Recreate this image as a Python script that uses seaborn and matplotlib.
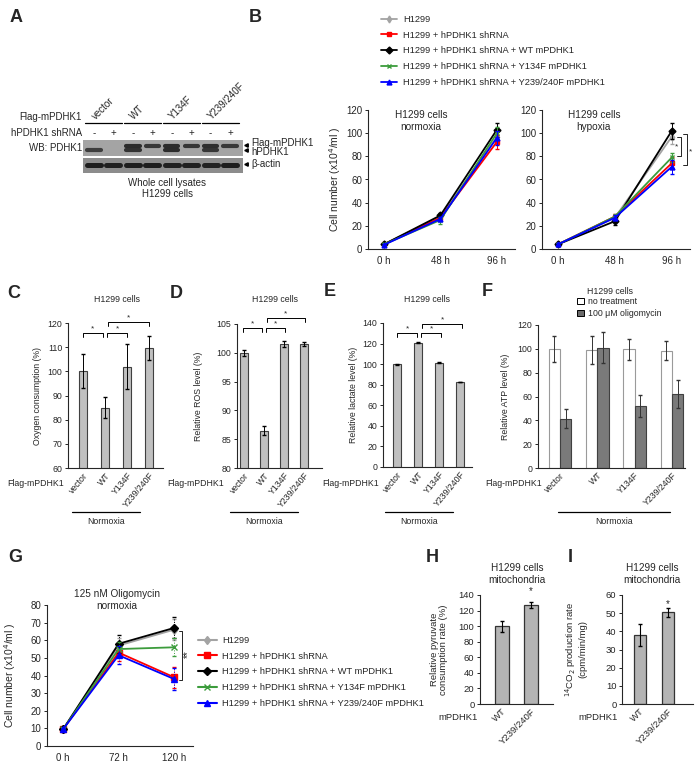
import numpy as np
import pandas as pd
import seaborn as sns
import matplotlib.pyplot as plt
from matplotlib.lines import Line2D
from matplotlib.patches import Rectangle, Patch

# ---------------- data ----------------
# A: western blot (band intensity per lane, 0 = no band)
blot_groups = ['vector', 'WT', 'Y134F', 'Y239/240F']
blot_shrna = ['-', '+', '-', '+', '-', '+', '-', '+']
flag_band = [0.0, 0.0, 1.0, 0.85, 1.0, 0.85, 0.95, 0.8]
hpdhk1_band = [0.75, 0.0, 0.9, 0.0, 1.0, 0.0, 0.85, 0.0]
actin_band = [0.95, 0.9, 0.95, 0.95, 0.9, 0.9, 0.85, 0.95]

# B / G: growth curves
series_names = ['H1299', 'H1299 + hPDHK1 shRNA', 'H1299 + hPDHK1 shRNA + WT mPDHK1',
                'H1299 + hPDHK1 shRNA + Y134F mPDHK1', 'H1299 + hPDHK1 shRNA + Y239/240F mPDHK1']
series_colors = ['#a3a3a3', '#ff0000', '#000000', '#3c9c3c', '#0000ff']
series_markers = ['d', 's', 'D', 'x', '^']

times_b = ['0 h', '48 h', '96 h']
norm_vals = [[4, 28, 97], [4, 27, 92.5], [4, 29, 103], [4, 25, 100], [3.5, 26, 96]]
norm_errs = [[1, 2, 5], [1, 2, 6], [1, 2, 6], [1, 3, 5], [1, 2, 6]]
hyp_vals = [[4, 27, 97], [4, 28, 74], [4, 24, 102], [4, 28, 79], [4, 27, 71]]
hyp_errs = [[1, 2, 6], [1, 2, 5], [1, 3, 7], [1, 2, 4], [1, 2, 6]]

times_g = ['0 h', '72 h', '120 h']
oligo_vals = [[9.5, 57, 66], [9.5, 53, 39], [9.5, 58, 67], [9.5, 55, 56], [9.5, 51.5, 38]]
oligo_errs = [[0.5, 4, 6], [0.5, 5, 6], [0.5, 5, 6], [0.5, 4, 5], [0.5, 5, 6]]

# C-F: bars
mutants = ['vector', 'WT', 'Y134F', 'Y239/240F']
oxygen = [100, 85, 102, 109.5]
oxygen_err = [7, 4.5, 9.5, 5]
ros = [100, 86.5, 101.5, 101.5]
ros_err = [0.5, 0.8, 0.5, 0.4]
lactate = [100, 121, 101.5, 83]
lactate_err = [0.5, 0.8, 0.5, 0]
atp_treat = ['no treatment', '100 \u03bcM oligomycin']
atp_none = [100, 99, 99.5, 98.5]
atp_none_err = [11, 12, 8.5, 8]
atp_oligo = [41.5, 101, 52, 62]
atp_oligo_err = [8, 13, 9.5, 11.5]

# H, I
mito_groups = ['WT', 'Y239/240F']
pyruvate = [100, 127]
pyruvate_err = [7, 4]
co2 = [38, 50.5]
co2_err = [6, 2.5]

# ---------------- figure setup ----------------
sns.set_style('ticks')
plt.rcParams['font.family'] = ['Liberation Sans', 'DejaVu Sans']
plt.rcParams['axes.linewidth'] = 0.8

W, H = 700, 767
fig = plt.figure(figsize=(W / 100, H / 100), dpi=100)


def box(l, t, r, b):
    return fig.add_axes([l / W, 1 - b / H, (r - l) / W, (b - t) / H])


def ftext(x, y, s, **kw):
    kw.setdefault('ha', 'center')
    kw.setdefault('va', 'center')
    fig.text(x / W, 1 - y / H, s, **kw)


def fline(x1, x2, y, lw=0.9):
    fig.add_artist(Line2D([x1 / W, x2 / W], [1 - y / H, 1 - y / H], color='k', lw=lw))


def style_axes(ax, fs):
    sns.despine(ax=ax)
    ax.tick_params(axis='y', length=2.5, width=0.7, labelsize=fs, pad=1.5)
    ax.tick_params(axis='x', length=0, labelsize=fs, pad=2)
    ax.set_xlabel('')


def bracket(ax, x1, x2, y, h, text='*', fs=6):
    ax.plot([x1, x1, x2, x2], [y - h, y, y, y - h], color='k', lw=0.7, clip_on=False)
    ax.text((x1 + x2) / 2, y + h * 0.2, text, ha='center', va='bottom', fontsize=fs)


for lab, x, y in [('A', 16, 18), ('B', 255, 17), ('C', 14, 293), ('D', 176, 293),
                  ('E', 330, 291), ('F', 487, 291), ('G', 15, 557), ('H', 432, 557), ('I', 570, 557)]:
    ftext(x, y, lab, fontsize=13, fontweight='bold')

# ---------------- A: western blot ----------------
axa = box(83, 140, 243, 173)
axa.set_xlim(-0.57, 7.67)
axa.set_ylim(33, 0)
axa.axis('off')
axa.add_patch(Rectangle((-0.57, 0), 8.24, 16, color='#a4a4a4', lw=0))
axa.add_patch(Rectangle((-0.57, 18), 8.24, 15, color='#8c8c8c', lw=0))
lanes = np.arange(len(blot_shrna))
for i in lanes:
    if flag_band[i] > 0:
        axa.plot([i - 0.34, i + 0.34], [6.0, 6.0], color=str(0.42 - 0.3 * flag_band[i]),
                 lw=3.0, solid_capstyle='round', alpha=0.9)
    if hpdhk1_band[i] > 0:
        axa.plot([i - 0.34, i + 0.34], [10.5, 10.5], color=str(0.42 - 0.3 * hpdhk1_band[i]),
                 lw=3.0, solid_capstyle='round', alpha=0.9)
    axa.plot([i - 0.36, i + 0.36], [25.5, 25.5], color=str(0.35 - 0.25 * actin_band[i]),
             lw=3.6, solid_capstyle='round')
    axa.text(i, -7, blot_shrna[i], ha='center', va='center', fontsize=7, clip_on=False)
for g, name in enumerate(blot_groups):
    axa.plot([2 * g - 0.45, 2 * g + 1.45], [-17, -17], color='k', lw=0.9, clip_on=False)
    axa.text(2 * g + 0.15, -19, name, rotation=45, ha='left', va='bottom',
             rotation_mode='anchor', fontsize=7, clip_on=False)
axa.plot([7.8, 7.8, 7.8], [5, 10, 24], marker='<', ms=2.5, color='k', lw=0, clip_on=False)
ftext(82, 117, 'Flag-mPDHK1', ha='right', fontsize=7)
ftext(82, 133, 'hPDHK1 shRNA', ha='right', fontsize=7)
ftext(82, 148, 'WB: PDHK1', ha='right', fontsize=7)
ftext(251, 143, 'Flag-mPDHK1', ha='left', fontsize=7)
ftext(251, 152, 'hPDHK1', ha='left', fontsize=7)
ftext(251, 164, '\u03b2-actin', ha='left', fontsize=7)
ftext(167, 183, 'Whole cell lysates', fontsize=7)
ftext(167, 194, 'H1299 cells', fontsize=7)


# ---------------- growth curves ----------------
def growth(ax, vals, errs, labels, ms, err_ls='-'):
    x = np.arange(len(labels))
    for v, e, c, m in zip(vals, errs, series_colors, series_markers):
        sns.lineplot(x=x, y=v, ax=ax, color=c, marker=m, markersize=ms, markeredgecolor=c,
                     markeredgewidth=1.0, linewidth=1.3, legend=False)
        eb = ax.errorbar(x, v, yerr=e, fmt='none', ecolor=c, elinewidth=0.7, capsize=1.5)
        eb[2][0].set_linestyle(err_ls)
    ax.set_xticks(x)
    ax.set_xticklabels(labels)


axb1 = box(368, 110, 515, 249)
growth(axb1, norm_vals, norm_errs, times_b, 3.5)
axb2 = box(542, 110, 690, 249)
growth(axb2, hyp_vals, hyp_errs, times_b, 3.5)
for ax in (axb1, axb2):
    ax.set_ylim(0, 120)
    ax.set_yticks(range(0, 121, 20))
    ax.set_xlim(-0.28, 2.32)
    style_axes(ax, 7)
    ax.tick_params(axis='x', pad=5)
axb1.set_ylabel('Cell number (x10$^4$/ml )', fontsize=7.5)
axb1.yaxis.set_label_coords((343 - 368) / 147, 0.5)
axb1.text(0.36, 0.92, 'H1299 cells\nnormoxia', transform=axb1.transAxes, ha='center',
          va='center', fontsize=7.2)
axb2.text(0.35, 0.92, 'H1299 cells\nhypoxia', transform=axb2.transAxes, ha='center',
          va='center', fontsize=7.2)
axb2.plot([2.1, 2.16, 2.16, 2.1], [96.5, 96.5, 80, 80], color='k', lw=0.6, clip_on=False)
axb2.text(2.08, 88, '*', ha='center', va='center', fontsize=6)
axb2.plot([2.2, 2.27, 2.27, 2.2], [99, 99, 72.5, 72.5], color='k', lw=0.6, clip_on=False)
axb2.text(2.33, 84, '*', ha='center', va='center', fontsize=6)

handles = [Line2D([], [], color=c, marker=m, ms=3.5, mec=c, mew=1.0, lw=1.3)
           for c, m in zip(series_colors, series_markers)]
fig.legend(handles, series_names, loc='upper left', bbox_to_anchor=(381 / W, 1 - 15 / H),
           frameon=False, fontsize=6.7, handlelength=1.7, handletextpad=0.7,
           labelspacing=0.72, borderpad=0, borderaxespad=0)


# ---------------- C, D, E bars ----------------
def bar4(ax, vals, errs):
    sns.barplot(x=mutants, y=vals, ax=ax, color='#c0c0c0', edgecolor='#404040',
                linewidth=0.8, width=0.4, errorbar=None)
    x = np.arange(len(mutants))
    ax.errorbar(x, vals, yerr=errs, fmt='none', ecolor='k', elinewidth=0.7, capsize=1.5)
    ax.set_xticks(x)
    ax.set_xticklabels(mutants, rotation=50, ha='right', va='top', rotation_mode='anchor')


axc = box(68, 323, 163, 468)
bar4(axc, oxygen, oxygen_err)
axc.set_ylim(60, 120)
axc.set_yticks(range(60, 121, 10))
axc.set_xlim(-0.68, 3.64)
style_axes(axc, 6.3)
axc.set_ylabel('Oxygen consumption (%)', fontsize=6.3)
axc.yaxis.set_label_coords((42 - 68) / 95, 0.5)
bracket(axc, 0, 0.9, 116, 1.6)
bracket(axc, 1.1, 2, 116, 1.6)
bracket(axc, 1.15, 3, 120.3, 1.6)

axd = box(237, 324, 322, 468)
bar4(axd, ros, ros_err)
axd.set_ylim(80, 105)
axd.set_yticks(range(80, 106, 5))
axd.set_xlim(-0.35, 3.9)
style_axes(axd, 6.3)
axd.set_ylabel('Relative ROS level (%)', fontsize=6.3)
axd.yaxis.set_label_coords((203 - 237) / 85, 0.5)
bracket(axd, -0.05, 0.9, 104.3, 0.7)
bracket(axd, 1.1, 2.05, 104.3, 0.7)
bracket(axd, 1.15, 3.05, 106.0, 0.7)

axe = box(383, 323, 472, 467)
bar4(axe, lactate, lactate_err)
axe.set_ylim(0, 140)
axe.set_yticks(range(0, 141, 20))
axe.set_xlim(-0.67, 3.57)
style_axes(axe, 6.3)
axe.set_ylabel('Relative lactate level (%)', fontsize=6.3)
axe.yaxis.set_label_coords((358 - 383) / 89, 0.5)
bracket(axe, 0, 0.95, 130.3, 4)
bracket(axe, 1.15, 2.1, 130.3, 4)
bracket(axe, 1.2, 3.1, 139, 4)

for x, t in [(117, 'H1299 cells'), (275, 'H1299 cells'), (427, 'H1299 cells')]:
    ftext(x, 300, t, fontsize=6.3)

# ---------------- F: ATP ----------------
atp_df = pd.DataFrame({
    'group': mutants * 2,
    'treatment': [atp_treat[0]] * 4 + [atp_treat[1]] * 4,
    'value': atp_none + atp_oligo,
})
axf = box(538, 325, 685, 468)
sns.barplot(data=atp_df, x='group', y='value', hue='treatment', ax=axf,
            palette=['white', '#7a7a7a'], width=0.6, errorbar=None, linewidth=0.8,
            legend=False)
for p in axf.containers[0]:
    p.set_edgecolor('#9a9a9a')
for p in axf.containers[1]:
    p.set_edgecolor('#404040')
xf = np.arange(len(mutants))
axf.errorbar(xf - 0.15, atp_none, yerr=atp_none_err, fmt='none', ecolor='#333333',
             elinewidth=0.7, capsize=1.5)
axf.errorbar(xf + 0.15, atp_oligo, yerr=atp_oligo_err, fmt='none', ecolor='#333333',
             elinewidth=0.7, capsize=1.5)
axf.set_xticks(xf)
axf.set_xticklabels(mutants, rotation=45, ha='right', va='top', rotation_mode='anchor')
axf.set_ylim(0, 120)
axf.set_yticks(range(0, 121, 20))
axf.set_xlim(-0.59, 3.35)
style_axes(axf, 6.3)
axf.set_ylabel('Relative ATP level (%)', fontsize=6.3)
axf.yaxis.set_label_coords((510 - 538) / 147, 0.5)
ftext(610, 292, 'H1299 cells', fontsize=6.3)
fig.legend([Patch(facecolor='white', edgecolor='k', lw=0.7),
            Patch(facecolor='#6a6a6a', edgecolor='k', lw=0.7)], atp_treat,
           loc='upper left', bbox_to_anchor=(577 / W, 1 - 297 / H), frameon=False,
           fontsize=6.3, handlelength=0.8, handleheight=0.8, handletextpad=0.4,
           labelspacing=0.35, borderpad=0, borderaxespad=0)

# row labels + Normoxia underlines
for x in (7, 167, 322, 485):
    ftext(x, 483, 'Flag-mPDHK1', ha='left', fontsize=6.3)
for x1, x2 in [(72, 140), (230, 298), (385, 453), (558, 670)]:
    fline(x1, x2, 512)
    ftext((x1 + x2) / 2, 522, 'Normoxia', fontsize=6.3)

# ---------------- G ----------------
axg = box(47, 605, 193, 746)
growth(axg, oligo_vals, oligo_errs, times_g, 4.5, err_ls=':')
axg.set_ylim(0, 80)
axg.set_yticks(range(0, 81, 10))
axg.set_xlim(-0.29, 2.34)
style_axes(axg, 7)
axg.tick_params(axis='x', pad=5)
axg.set_ylabel('Cell number (x10$^4$/ml )', fontsize=7.5)
axg.yaxis.set_label_coords((18 - 47) / 146, 0.5)
axg.plot([2.08, 2.14, 2.14, 2.08], [65, 65, 37.5, 37.5], color='k', lw=0.6, clip_on=False)
axg.text(2.25, 52, '**', rotation=90, ha='center', va='center', fontsize=7)
ftext(117, 600, '125 nM Oligomycin\nnormoxia', fontsize=7.2)
handles_g = [Line2D([], [], color=c, marker=m, ms=4.5, mec=c, mew=1.0, lw=1.5)
             for c, m in zip(series_colors, series_markers)]
fig.legend(handles_g, series_names, loc='upper left', bbox_to_anchor=(198 / W, 1 - 636 / H),
           frameon=False, fontsize=6.7, handlelength=2.0, handletextpad=0.6,
           labelspacing=0.72, borderpad=0, borderaxespad=0)


# ---------------- H, I ----------------
def bar2(ax, vals, errs):
    sns.barplot(x=mito_groups, y=vals, ax=ax, color='#b4b4b4', edgecolor='#333333',
                linewidth=0.9, width=0.45, errorbar=None)
    x = np.arange(len(mito_groups))
    ax.errorbar(x, vals, yerr=errs, fmt='none', ecolor='k', elinewidth=0.8, capsize=1.5)
    ax.set_xticks(x)
    ax.set_xticklabels(mito_groups, rotation=45, ha='right', va='top', rotation_mode='anchor')


axh = box(480, 595, 553, 704)
bar2(axh, pyruvate, pyruvate_err)
axh.set_ylim(0, 140)
axh.set_yticks(range(0, 141, 20))
axh.set_xlim(-0.76, 1.76)
style_axes(axh, 6.8)
axh.set_ylabel('Relative pyruvate\nconsumption rate (%)', fontsize=6.8, linespacing=1.0)
axh.yaxis.set_label_coords((448 - 480) / 73, 0.5)
axh.text(1, 145, '*', ha='center', va='center', fontsize=7, clip_on=False)
ftext(517, 574, 'H1299 cells\nmitochondria', fontsize=7.2)
ftext(438, 718, 'mPDHK1', ha='left', fontsize=6.8)

axi = box(622, 595, 693, 704)
bar2(axi, co2, co2_err)
axi.set_ylim(0, 60)
axi.set_yticks(range(0, 61, 10))
axi.set_xlim(-0.64, 1.9)
style_axes(axi, 6.8)
axi.set_ylabel('$^{14}$CO$_2$ production rate\n(cpm/min/mg)', fontsize=6.8, linespacing=1.0)
axi.yaxis.set_label_coords((587 - 622) / 71, 0.5)
axi.text(1, 55, '*', ha='center', va='center', fontsize=7)
ftext(652, 574, 'H1299 cells\nmitochondria', fontsize=7.2)
ftext(578, 718, 'mPDHK1', ha='left', fontsize=6.8)

fig.savefig('out.png', dpi=100)
